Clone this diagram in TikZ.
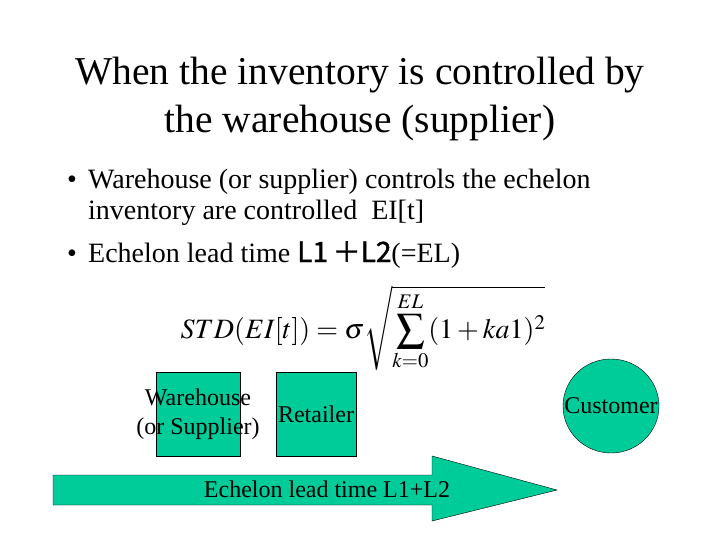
\documentclass[tikz,border=0pt]{standalone}
\usepackage{mathptmx}
\usepackage[no-math]{fontspec}
\setmainfont{Liberation Serif}
\newfontfamily\gothfont[FakeBold=1.5]{Noto Sans CJK JP}
\usetikzlibrary{positioning,shapes.geometric}
\definecolor{tealfill}{RGB}{0,204,153}

\begin{document}
\begin{tikzpicture}
 [x=1pt, y=-1pt,
  title text/.style={font=\fontsize{39.5}{48}\selectfont, anchor=base, inner sep=0pt},
  bullet text/.style={font=\fontsize{28}{32}\selectfont, anchor=base west, inner sep=0pt},
  stage node/.style={draw, fill=tealfill, minimum width=84pt, minimum height=84pt, inner sep=0pt},
  label text/.style={font=\fontsize{24}{29}\selectfont, align=center, inner sep=0pt}]

 \useasboundingbox (0,0) rectangle (720,540);

 \node[title text] (title1) at (360,85) {When the inventory is controlled by};
 \node[title text] (title2) at (360,133) {the warehouse (supplier)};

 \node[bullet text] (b1) at (67,189) {\textbullet};
 \node[bullet text] (t1) at (88,189) {Warehouse (or supplier) controls the echelon};
 \node[bullet text] (t2) at (88,220) {inventory are controlled\ \ EI[t]};
 \node[bullet text] (b2) at (67,262) {\textbullet};
 \node[bullet text] (t3) at (88,262) {Echelon lead time {\gothfont L1\,＋L2}(=EL)};

 \node[font=\fontsize{28}{32}\selectfont, inner sep=0pt] (formula) at (363,328)
   {$\displaystyle STD(EI[t]) = \sigma\sqrt{\sum_{k=0}^{EL}(1+ka1)^2}$};

 % supply chain stages
 \node[stage node] (wh) at (198,414) {};
 \node[stage node, minimum width=80pt] (ret) at (316,414) {};
 \node[draw, fill=tealfill, ellipse, minimum width=96pt, minimum height=94pt,
   inner sep=0pt] (cust) at (611,406) {};

 \node[label text] at (wh) {Warehouse\\(or Supplier)};
 \node[label text] at (ret) {Retailer};
 \node[label text] at (cust) {Customer};

 % lead time arrow
 \draw[fill=tealfill] (53,475) -- (432,475) -- (432,456) -- (557,490)
   -- (432,521) -- (432,505) -- (53,505) -- cycle;
 \node[label text] (lead) at (327,489) {Echelon lead time L1+L2};

\end{tikzpicture}
\end{document}
